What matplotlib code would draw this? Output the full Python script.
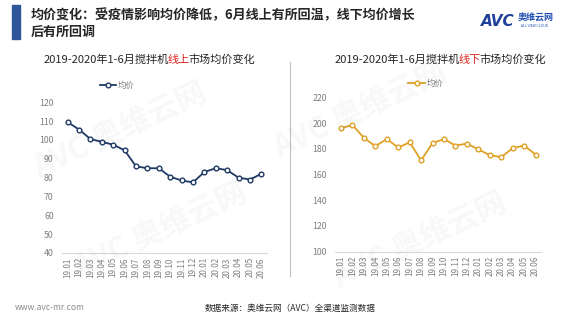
import matplotlib.pyplot as plt
from matplotlib.patches import Rectangle
from matplotlib.lines import Line2D

plt.rcParams["font.family"] = ["Noto Sans CJK SC", "DejaVu Sans"]

months = ["19.01", "19.02", "19.03", "19.04", "19.05", "19.06", "19.07", "19.08", "19.09",
          "19.10", "19.11", "19.12", "20.01", "20.02", "20.03", "20.04", "20.05", "20.06"]
online_price = [109.5, 105.5, 100.5, 99, 97.5, 94.5, 86, 85, 85, 80.5, 78.5, 77.5, 83, 85, 84, 80, 79, 82]
offline_price = [196, 198.5, 188.5, 182, 187.5, 181, 185, 171, 184.5, 187.5, 182.5, 184, 179.5, 175, 173.5, 180.5, 182.5, 175.5]

fig = plt.figure(figsize=(5.8, 3.26), dpi=100)
W, H = 580, 326


def fx(px):
    return px / W


def fy(py):
    return 1 - py / H


# header bar and title
fig.patches.append(Rectangle((fx(12), fy(39)), fx(8), 34 / H, transform=fig.transFigure,
                             color="#2e5597", zorder=2))
fig.text(fx(31), fy(15), "均价变化：受疫情影响均价降低，6月线上有所回温，线下均价增长",
         fontsize=9.4, fontweight="bold", color="#262626", va="center")
fig.text(fx(31), fy(32), "后有所回调", fontsize=9.4, fontweight="bold", color="#262626", va="center")

# logo
fig.text(fx(481), fy(21), "AVC", fontsize=11, fontweight="bold", fontstyle="italic",
         color="#1f3f9a", va="center", family="DejaVu Sans")
fig.text(fx(518), fy(18), "奥维云网", fontsize=6.5, fontweight="bold", color="#1f4fb4", va="center")
fig.text(fx(521), fy(26), "ALL VIEW CLOUD", fontsize=2.5, color="#1f4fb4", va="center")

# watermarks
for x, y in [(120, 130), (160, 230), (360, 110), (420, 240)]:
    fig.text(fx(x), fy(y), "AVC 奥维云网", fontsize=22, fontweight="bold", color="#000000",
             alpha=0.03, rotation=25, ha="center", va="center")

# divider
fig.lines.append(Line2D([fx(290), fx(290)], [fy(62), fy(276)], transform=fig.transFigure,
                        color="#bfbfbf", lw=0.8))


def subtitle(x_start, y, word):
    size = 8.0
    t1 = fig.text(fx(x_start), fy(y), "2019-2020年1-6月搅拌机", fontsize=size, color="#262626", va="center")
    fig.canvas.draw()
    bb = t1.get_window_extent()
    t2 = fig.text((bb.x1 - 1.5) / fig.bbox.width, fy(y), word, fontsize=size, color="#e0201b", va="center")
    bb2 = t2.get_window_extent()
    fig.text((bb2.x1 - 1.5) / fig.bbox.width, fy(y), "市场均价变化", fontsize=size, color="#262626", va="center")


subtitle(44, 60, "线上")
subtitle(335, 60, "线下")


def price_panel(rect, values, color, ylim, step, leg_anchor):
    ax = fig.add_axes(rect)
    x = list(range(len(months)))
    ax.plot(x, values, color=color, lw=1.3, marker="o", ms=3.4, mfc="white", mec=color,
            mew=1.0, label="均价")
    ax.set_xlim(-0.5, len(months) - 0.5)
    ax.set_ylim(*ylim)
    ax.set_yticks(range(ylim[0], ylim[1] + 1, step))
    ax.set_xticks(x)
    ax.set_xticklabels(months, rotation=90)
    ax.tick_params(axis="x", length=0, labelsize=5.8, labelcolor="#7f7f7f", pad=3)
    ax.tick_params(axis="y", length=0, labelsize=6.3, labelcolor="#7f7f7f", pad=6)
    for side in ["top", "right", "left"]:
        ax.spines[side].set_visible(False)
    ax.spines["bottom"].set_color("#d9d9d9")
    ax.spines["bottom"].set_linewidth(0.8)
    ax.patch.set_alpha(0)
    leg = ax.legend(loc="center", bbox_to_anchor=leg_anchor, frameon=False,
                    fontsize=6, handlelength=2.0, handletextpad=0.2)
    for t in leg.get_texts():
        t.set_color("#7f7f7f")
    return ax


price_panel([fx(62), fy(253), 205 / W, (253 - 102.3) / H], online_price, "#1f3864",
            (40, 120), 10, (0.27, 1.115))
price_panel([fx(335.3), fy(251.7), 206 / W, (251.7 - 97.3) / H], offline_price, "#dfa126",
            (100, 220), 20, (0.44, 1.09))

# footer
fig.text(fx(15), fy(308), "www.avc-mr.com", fontsize=6.1, color="#8c8c8c", va="center")
fig.text(fx(290), fy(308), "数据来源：奥维云网（AVC）全渠道监测数据", fontsize=6.2,
         color="#262626", va="center", ha="center")

fig.savefig("out.png", dpi=100)
